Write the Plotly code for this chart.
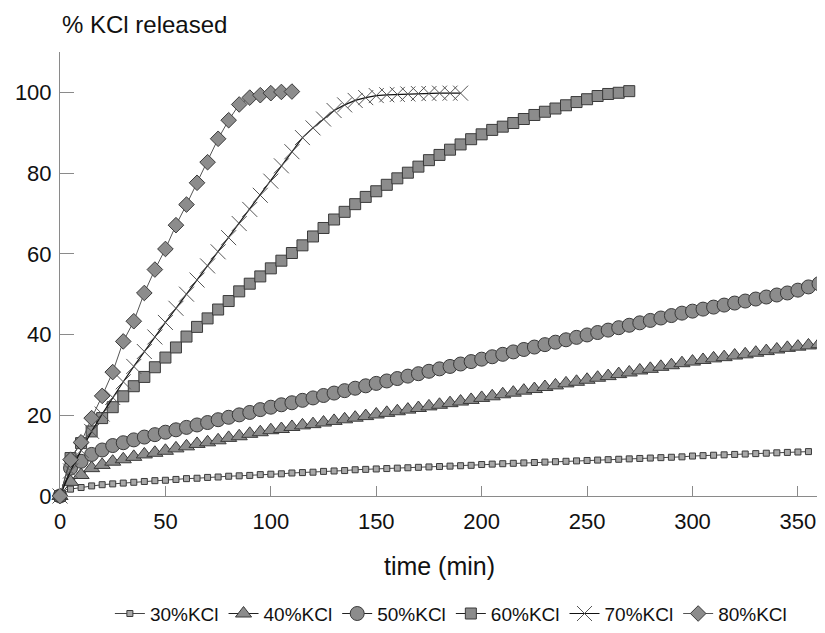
import plotly.graph_objects as go

# time points (min)
t30 = list(range(0, 360, 5))      # 0..355
t40 = list(range(0, 365, 5))      # 0..360
t50 = list(range(0, 365, 5))      # 0..360
t60 = list(range(0, 275, 5))      # 0..270
t70 = list(range(0, 195, 5))      # 0..190
t80 = list(range(0, 115, 5))      # 0..110

kcl30 = [0, 1.7, 2.1, 2.5, 2.8, 3.0, 3.2, 3.4, 3.6, 3.8,
         3.9, 4.1, 4.3, 4.4, 4.6, 4.7, 4.9, 5.0, 5.1, 5.3,
         5.4, 5.5, 5.7, 5.8, 5.9, 6.1, 6.2, 6.3, 6.5, 6.6,
         6.7, 6.8, 6.9, 7.0, 7.1, 7.2, 7.3, 7.4, 7.5, 7.6,
         7.8, 7.9, 8.0, 8.1, 8.2, 8.3, 8.4, 8.5, 8.6, 8.7,
         8.8, 8.9, 9.0, 9.1, 9.2, 9.3, 9.4, 9.5, 9.6, 9.7,
         9.9, 10.0, 10.1, 10.2, 10.3, 10.4, 10.5, 10.6, 10.7, 10.8,
         10.9, 11.0]

kcl40 = [0, 3.5, 5.2, 6.9, 7.7, 8.5, 9.1, 9.7, 10.3, 10.7,
         11.2, 11.8, 12.3, 12.9, 13.3, 13.8, 14.4, 14.8, 15.4, 15.8,
         16.3, 16.6, 17.1, 17.5, 17.8, 18.2, 18.6, 19.0, 19.4, 19.8,
         20.2, 20.6, 21.0, 21.4, 21.8, 22.2, 22.6, 23.0, 23.4, 23.8,
         24.3, 24.7, 25.2, 25.6, 26.1, 26.5, 27.0, 27.4, 27.9, 28.3,
         28.8, 29.3, 29.7, 30.2, 30.6, 31.1, 31.5, 32.0, 32.4, 32.9,
         33.3, 33.7, 34.1, 34.4, 34.8, 35.1, 35.5, 35.9, 36.3, 36.7,
         37.0, 37.3, 37.6]

kcl50 = [0, 6.9, 8.6, 10.3, 11.4, 12.5, 13.2, 13.9, 14.6, 15.2,
         15.8, 16.4, 17.0, 17.6, 18.2, 18.9, 19.5, 20.1, 20.7, 21.4,
         22.0, 22.6, 23.1, 23.7, 24.3, 24.9, 25.5, 26.1, 26.7, 27.3,
         27.9, 28.5, 29.1, 29.7, 30.3, 30.9, 31.5, 32.1, 32.7, 33.3,
         33.9, 34.5, 35.1, 35.7, 36.3, 36.9, 37.5, 38.1, 38.7, 39.3,
         39.9, 40.5, 41.1, 41.7, 42.3, 42.9, 43.5, 44.1, 44.7, 45.3,
         45.8, 46.3, 46.8, 47.3, 47.8, 48.3, 48.8, 49.3, 49.8, 50.3,
         51.0, 51.8, 52.6]

kcl60 = [0, 9.4, 13.1, 16.0, 19.3, 22.0, 24.7, 27.2, 29.5, 31.9,
         34.3, 36.8, 39.5, 41.9, 44.0, 46.2, 48.3, 50.7, 52.6, 54.4,
         56.4, 58.3, 60.2, 62.1, 64.3, 66.4, 68.5, 70.4, 72.3, 74.1,
         75.5, 77.1, 78.7, 80.1, 81.6, 83.2, 84.5, 85.8, 87.1, 88.4,
         89.6, 90.7, 91.5, 92.4, 93.4, 94.4, 95.2, 96.0, 96.8, 97.6,
         98.3, 99.1, 99.6, 99.9, 100.3]

kcl70 = [0, 6.2, 11.3, 16.0, 20.3, 24.4, 28.3, 32.1, 35.8, 39.4,
         43.0, 46.5, 50.0, 53.5, 57.0, 60.5, 64.0, 67.5, 71.0, 74.5,
         78.0, 81.8, 85.3, 88.8, 91.2, 93.4, 95.5, 96.9, 98.0, 98.7,
         99.2, 99.4, 99.5, 99.6, 99.7, 99.7, 99.8, 99.8, 99.8]

kcl80 = [0, 9.0, 13.3, 19.3, 24.8, 30.7, 38.3, 43.3, 50.3, 56.1,
         61.2, 67.1, 72.2, 77.6, 82.7, 88.5, 93.1, 97.0, 98.7, 99.3,
         99.8, 100.1, 100.2]

names = ["30%KCl", "40%KCl", "50%KCl", "60%KCl", "70%KCl", "80%KCl"]
xticks = [0, 50, 100, 150, 200, 250, 300, 350]
yticks = [0, 20, 40, 60, 80, 100]

FONT = "Liberation Sans, Arial, Helvetica, sans-serif"
FILL = "#8c8c8c"
EDGE = "#3a3a3a"

fig = go.Figure()

fig.add_trace(go.Scatter(
    x=t30, y=kcl30, name=names[0], mode="lines+markers",
    line=dict(color="#444444", width=1),
    marker=dict(symbol="square", size=6, color="#a8a8a8",
                line=dict(color=EDGE, width=1)),
    cliponaxis=False))

fig.add_trace(go.Scatter(
    x=t40, y=kcl40, name=names[1], mode="lines+markers",
    line=dict(color="#222222", width=1),
    marker=dict(symbol="triangle-up", size=14, color=FILL,
                line=dict(color=EDGE, width=1)),
    cliponaxis=False))

fig.add_trace(go.Scatter(
    x=t50, y=kcl50, name=names[2], mode="lines+markers",
    line=dict(color="#222222", width=1),
    marker=dict(symbol="circle", size=14, color=FILL,
                line=dict(color=EDGE, width=1)),
    cliponaxis=False))

fig.add_trace(go.Scatter(
    x=t60, y=kcl60, name=names[3], mode="lines+markers",
    line=dict(color="#222222", width=1),
    marker=dict(symbol="square", size=11, color=FILL,
                line=dict(color=EDGE, width=1)),
    cliponaxis=False))

fig.add_trace(go.Scatter(
    x=t70, y=kcl70, name=names[4], mode="lines+markers",
    line=dict(color="#111111", width=1.2),
    marker=dict(symbol="x-thin", size=15, color="#555555",
                line=dict(color="#555555", width=1)),
    cliponaxis=False))

fig.add_trace(go.Scatter(
    x=t80, y=kcl80, name=names[5], mode="lines+markers",
    line=dict(color="#555555", width=1),
    marker=dict(symbol="diamond", size=12, color=FILL,
                line=dict(color=EDGE, width=1)),
    cliponaxis=False))

axis_common = dict(
    showline=True, linecolor="#8a8a8a", linewidth=1,
    ticks="inside", tickcolor="#8a8a8a", tickwidth=1,
    showgrid=False, zeroline=False,
    tickfont=dict(family=FONT, size=22, color="#111111"),
)

fig.update_xaxes(
    range=[0, 360], tickvals=xticks, ticklen=10, ticklabelstandoff=6,
    title=dict(text="time (min)", font=dict(family=FONT, size=25, color="#111111"),
               standoff=24),
    **axis_common)
fig.update_yaxes(
    range=[0, 110], tickvals=yticks, ticklen=14, ticklabelstandoff=3,
    **axis_common)

# page body has an 8px margin, so the figure is sized to fit the window
fig.update_layout(
    width=817, height=625,
    margin=dict(l=52, r=6, t=44, b=137, autoexpand=False),
    paper_bgcolor="white", plot_bgcolor="white",
    showlegend=True,
    legend=dict(orientation="h", x=0.515, xanchor="center",
                y=-0.265, yanchor="middle",
                font=dict(family=FONT, size=19, color="#111111"),
                itemwidth=30, tracegroupgap=0, bgcolor="rgba(0,0,0,0)"),
    annotations=[dict(
        text="% KCl released", xref="paper", yref="paper",
        x=0, y=1.097, xanchor="left", yanchor="top", showarrow=False,
        font=dict(family=FONT, size=24, color="#111111"))],
)

fig.write_html("out.html")
